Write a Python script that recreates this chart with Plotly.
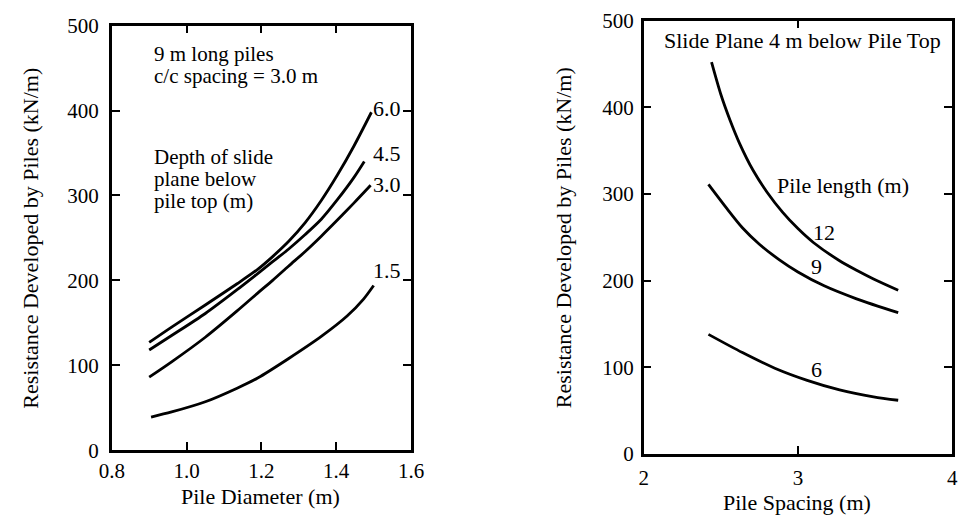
import plotly.graph_objects as go

# ---- Left panel: resistance vs pile diameter (9 m piles, 3.0 m spacing) ----
# depth of slide plane below pile top: 6.0, 4.5, 3.0, 1.5 m
diam_60 = [0.90, 0.96, 1.05, 1.135, 1.19, 1.23, 1.273, 1.317, 1.36, 1.403, 1.447, 1.494]
res_60 = [127, 145, 171, 196, 213, 228, 246, 268, 294, 324, 358, 398]

diam_45 = [0.90, 0.96, 1.05, 1.135, 1.19, 1.23, 1.273, 1.317, 1.36, 1.403, 1.447, 1.475]
res_45 = [118, 135, 161, 189, 208, 222, 237, 254, 272, 295, 321, 340]

diam_30 = [0.90, 0.96, 1.05, 1.135, 1.19, 1.23, 1.273, 1.317, 1.36, 1.403, 1.447, 1.492]
res_30 = [86, 104, 133, 164, 185, 200, 217, 234, 252, 271, 291, 312]

diam_15 = [0.905, 0.96, 1.05, 1.135, 1.19, 1.273, 1.36, 1.429, 1.473, 1.50]
res_15 = [39, 45, 57, 73, 85, 108, 134, 158, 178, 194]

depth_labels = ["6.0", "4.5", "3.0", "1.5"]
depth_label_y = [402, 349, 313, 212]

# ---- Right panel: resistance vs pile spacing (slide plane 4 m below top) ----
# pile length: 12, 9, 6 m
spacing_12 = [2.44, 2.50, 2.56, 2.62, 2.71, 2.80, 2.90, 3.00, 3.10, 3.27, 3.38, 3.49, 3.65]
res_12 = [452, 415, 385, 359, 327, 302, 279, 260, 244, 223, 212, 202, 189]

spacing_9 = [2.42, 2.54, 2.64, 2.75, 2.88, 3.00, 3.17, 3.38, 3.65]
res_9 = [311, 283, 261, 242, 224, 210, 194, 179, 163]

spacing_6 = [2.42, 2.64, 2.85, 3.06, 3.27, 3.49, 3.65]
res_6 = [138, 117, 99, 85, 74, 66, 62]

length_labels = ["12", "9", "6"]
length_label_x = [3.17, 3.12, 3.12]
length_label_y = [256, 216, 97]

FONT = "Liberation Serif"
W, H = 972, 529

fig = go.Figure()

line_style = dict(color="black", width=2.8, shape="spline", smoothing=0.8)

for xs, ys in [(diam_60, res_60), (diam_45, res_45), (diam_30, res_30), (diam_15, res_15)]:
    fig.add_trace(go.Scatter(x=xs, y=ys, mode="lines", line=line_style,
                             xaxis="x", yaxis="y", showlegend=False, hoverinfo="skip"))

for xs, ys in [(spacing_12, res_12), (spacing_9, res_9), (spacing_6, res_6)]:
    fig.add_trace(go.Scatter(x=xs, y=ys, mode="lines", line=line_style,
                             xaxis="x2", yaxis="y2", showlegend=False, hoverinfo="skip"))

axis_common = dict(
    showline=True, linecolor="black", linewidth=2.5, mirror="ticks",
    ticks="inside", ticklen=8, tickwidth=1.5, tickcolor="black",
    showgrid=False, zeroline=False,
    tickfont=dict(family=FONT, size=21, color="black"),
)

fig.update_layout(
    width=W, height=H,
    margin=dict(l=0, r=0, t=0, b=0),
    paper_bgcolor="white", plot_bgcolor="white",
    font=dict(family=FONT, size=22, color="black"),
    xaxis=dict(axis_common, domain=[101.5 / W, 409 / W], range=[0.8, 1.6],
               tickvals=[0.8, 1.0, 1.2, 1.4, 1.6], ticktext=["0.8", "1.0", "1.2", "1.4", "1.6"],
               anchor="y", ticklabelstandoff=0),
    yaxis=dict(axis_common, domain=[1 - 459 / H, 1 - 14.3 / H], range=[0, 500],
               tickvals=[0, 100, 200, 300, 400, 500], anchor="x", ticklabelstandoff=6),
    xaxis2=dict(axis_common, domain=[648 / W, 965 / W], range=[2, 4],
                tickvals=[2, 3, 4], anchor="y2", ticklabelstandoff=3),
    yaxis2=dict(axis_common, domain=[1 - 463 / H, 1 - 9 / H], range=[0, 500],
                tickvals=[0, 100, 200, 300, 400, 500], anchor="x2", ticklabelstandoff=3),
)

ann = []
txt = dict(showarrow=False, font=dict(family=FONT, size=22, color="black"), borderpad=0)
note = dict(txt, font=dict(family=FONT, size=21, color="black"))

# axis titles
ann.append(dict(txt, text="Resistance Developed by Piles (kN/m)", textangle=-90,
                xref="paper", yref="paper", x=18.3 / W, y=1 - 236.6 / H,
                xanchor="center", yanchor="middle"))
ann.append(dict(txt, text="Pile Diameter (m)", xref="paper", yref="paper",
                x=254.5 / W, y=1 - 507.5 / H, xanchor="center", yanchor="middle"))
ann.append(dict(txt, text="Resistance Developed by Piles (kN/m)", textangle=-90,
                xref="paper", yref="paper", x=565 / W, y=1 - 236 / H,
                xanchor="center", yanchor="middle"))
ann.append(dict(txt, text="Pile Spacing (m)", xref="paper", yref="paper",
                x=806 / W, y=1 - 514 / H, xanchor="center", yanchor="middle"))

# left panel notes
for t, y in [("9 m long piles", 466.5), ("c/c spacing = 3.0 m", 440.3),
             ("Depth of slide", 345.5), ("plane below", 319.3), ("pile top (m)", 293.1)]:
    ann.append(dict(note, text=t, xref="x", yref="y", x=0.909, y=y,
                    xanchor="left", yanchor="middle"))
for t, y in zip(depth_labels, depth_label_y):
    ann.append(dict(txt, text=t, xref="x", yref="y", x=1.536, y=y,
                    xanchor="center", yanchor="middle"))

# right panel notes
ann.append(dict(txt, text="Slide Plane 4 m below Pile Top", xref="x2", yref="y2",
                x=3.03, y=477, xanchor="center", yanchor="middle"))
ann.append(dict(txt, text="Pile length (m)", xref="x2", yref="y2",
                x=3.295, y=310, xanchor="center", yanchor="middle"))
for t, x, y in zip(length_labels, length_label_x, length_label_y):
    ann.append(dict(txt, text=t, xref="x2", yref="y2", x=x, y=y,
                    xanchor="center", yanchor="middle"))

fig.update_layout(annotations=ann)

fig.write_html("out.html")
